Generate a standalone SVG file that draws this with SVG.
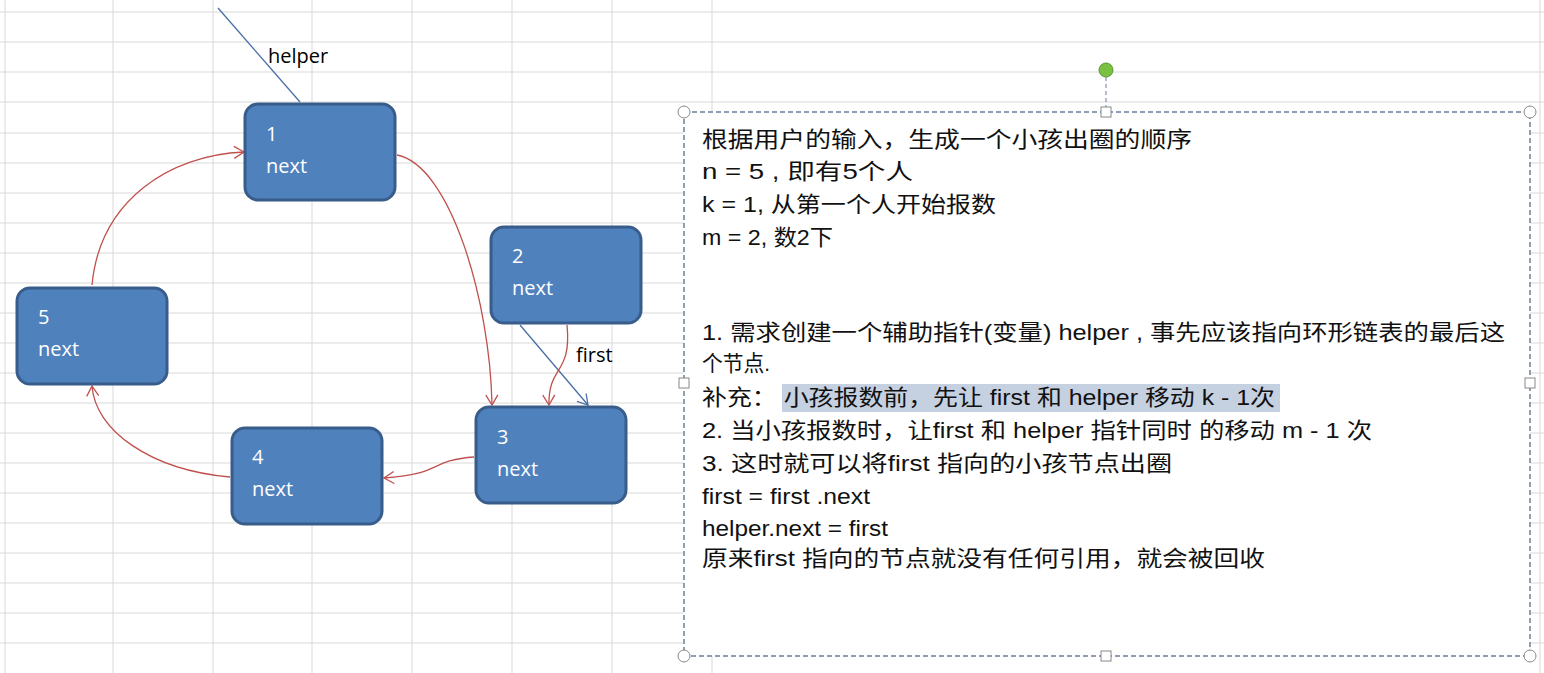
<svg xmlns="http://www.w3.org/2000/svg" width="1544" height="673" viewBox="0 0 1544 673">
<style>
.g{stroke:#d9d9d9;stroke-width:1}
.n rect{fill:#4f81bd;stroke:#385d8a;stroke-width:3}
.n text{fill:#fff;font-family:"Open Sans","Liberation Sans",sans-serif;font-size:20px}
.c{fill:none;stroke:#c0504d;stroke-width:1.3}
.t{font-family:"Liberation Sans","Noto Sans CJK SC",sans-serif;font-size:22px;fill:#111}
.h{fill:#fff;stroke:#888;stroke-width:1}
</style>
<defs>
<marker id="a" markerWidth="14" markerHeight="14" refX="11" refY="7" orient="auto" markerUnits="userSpaceOnUse"><path d="M1,1 L11,7 L1,13" fill="none" stroke="#c0504d" stroke-width="1.3"/></marker>
<marker id="b" markerWidth="14" markerHeight="14" refX="11" refY="7" orient="auto" markerUnits="userSpaceOnUse"><path d="M1,1 L11,7 L1,13" fill="none" stroke="#4a6fa5" stroke-width="1.3"/></marker>
</defs>
<rect width="1544" height="673" fill="#fff"/>
<g id="grid" class="g">
<path d="M0,12H1544M0,42H1544M0,72H1544M0,102H1544M0,133H1544M0,163H1544M0,193H1544M0,223H1544M0,253H1544M0,283H1544M0,313H1544M0,343H1544M0,373H1544M0,403H1544M0,433H1544M0,463H1544M0,493H1544M0,523H1544M0,553H1544M0,583H1544M0,613H1544M0,643H1544M5,0V673M113,0V673M213,0V673M312,0V673M412,0V673M512,0V673M612,0V673M712,0V673M1540,0V673"/>
</g>
<g id="connectors">
<line x1="218" y1="8" x2="300" y2="102" stroke="#4a6fa5" stroke-width="1.3"/>
<line x1="520" y1="325" x2="588" y2="405" stroke="#4a6fa5" stroke-width="1.3" marker-end="url(#b)"/>
<path class="c" d="M397,155 C450,165 490,300 492,405" marker-end="url(#a)"/>
<path class="c" d="M567,325 C572,375 548,365 549,405" marker-end="url(#a)"/>
<path class="c" d="M474,457 C430,460 440,475 384,478" marker-end="url(#a)"/>
<path class="c" d="M230,477 C150,470 95,430 92,386" marker-end="url(#a)"/>
<path class="c" d="M92,285 C100,200 170,155 244,152" marker-end="url(#a)"/>
<text x="268" y="63" style="font-family:'Open Sans','Liberation Sans',sans-serif;font-size:20px">helper</text>
<text x="576" y="362" style="font-family:'Open Sans','Liberation Sans',sans-serif;font-size:20px">first</text>
</g>
<g id="n1" class="n"><rect x="245" y="104" width="150" height="96" rx="13"/><text x="266" y="141">1</text><text x="266" y="173">next</text></g>
<g id="n2" class="n"><rect x="491" y="227" width="150" height="96" rx="13"/><text x="512" y="263">2</text><text x="512" y="295">next</text></g>
<g id="n3" class="n"><rect x="476" y="407" width="150" height="96" rx="13"/><text x="497" y="444">3</text><text x="497" y="476">next</text></g>
<g id="n4" class="n"><rect x="232" y="428" width="150" height="96" rx="13"/><text x="252" y="464">4</text><text x="252" y="496">next</text></g>
<g id="n5" class="n"><rect x="17" y="288" width="150" height="96" rx="13"/><text x="38" y="324">5</text><text x="38" y="356">next</text></g>
<g id="textbox">
<rect x="684" y="112" width="846" height="544" fill="#fff" stroke="#6b7f99" stroke-width="1.5" stroke-dasharray="5,3"/>
<line x1="1106" y1="70" x2="1106" y2="112" stroke="#6b7f99" stroke-dasharray="4,3"/>
<circle cx="1106" cy="70" r="7" fill="#7ac143" stroke="#5a9a30"/>
<rect x="782" y="384" width="498" height="28" fill="#c5d0e0"/>
<circle class="h" cx="684" cy="112" r="6"/><circle class="h" cx="1530" cy="112" r="6"/><circle class="h" cx="684" cy="656" r="6"/><circle class="h" cx="1530" cy="656" r="6"/>
<rect class="h" x="1101" y="107" width="10" height="10"/><rect class="h" x="1101" y="651" width="10" height="10"/><rect class="h" x="679" y="378" width="10" height="10"/><rect class="h" x="1525" y="378" width="10" height="10"/>
<text class="t" x="702" y="147" textLength="490" lengthAdjust="spacingAndGlyphs">根据用户的输入，生成一个小孩出圈的顺序</text>
<text class="t" x="702" y="179" textLength="211" lengthAdjust="spacingAndGlyphs">n = 5 , 即有5个人</text>
<text class="t" x="702" y="212" textLength="294" lengthAdjust="spacingAndGlyphs">k = 1, 从第一个人开始报数</text>
<text class="t" x="702" y="245" textLength="131" lengthAdjust="spacingAndGlyphs">m = 2, 数2下</text>
<text class="t" x="702" y="340" textLength="803" lengthAdjust="spacingAndGlyphs">1. 需求创建一个辅助指针(变量) helper , 事先应该指向环形链表的最后这</text>
<text class="t" x="702" y="371" textLength="68" lengthAdjust="spacingAndGlyphs">个节点.</text>
<text class="t" x="702" y="405" textLength="573" lengthAdjust="spacingAndGlyphs">补充：  小孩报数前，先让 first 和  helper 移动 k - 1次</text>
<text class="t" x="702" y="438" textLength="670" lengthAdjust="spacingAndGlyphs">2. 当小孩报数时，让first 和 helper 指针同时 的移动  m  - 1 次</text>
<text class="t" x="702" y="471" textLength="470" lengthAdjust="spacingAndGlyphs">3. 这时就可以将first 指向的小孩节点出圈</text>
<text class="t" x="702" y="504" textLength="168" lengthAdjust="spacingAndGlyphs">first = first .next</text>
<text class="t" x="702" y="536" textLength="186" lengthAdjust="spacingAndGlyphs">helper.next = first</text>
<text class="t" x="702" y="566" textLength="563" lengthAdjust="spacingAndGlyphs">原来first 指向的节点就没有任何引用，就会被回收</text>
</g>
</svg>
